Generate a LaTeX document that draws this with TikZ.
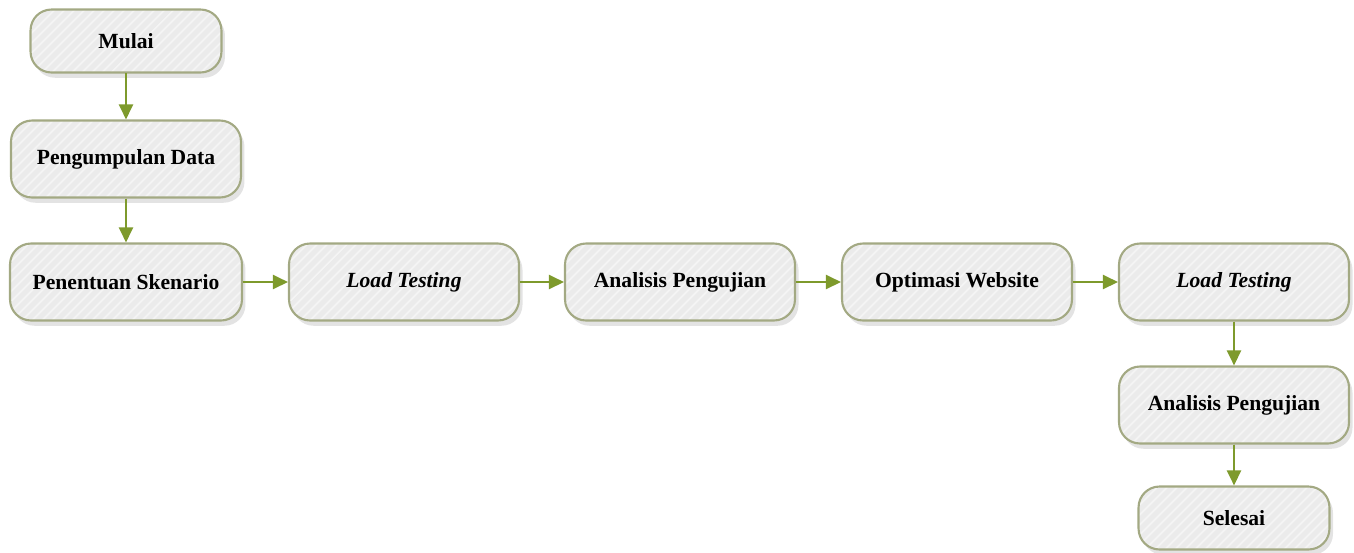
\documentclass[tikz,border=0pt]{standalone}
\usepackage{fontspec}
\setmainfont{Liberation Serif}
\usetikzlibrary{arrows.meta, shadows, patterns.meta}
\definecolor{olivearrow}{HTML}{7E9A2C}
\definecolor{boxline}{HTML}{A3A983}
\definecolor{boxfill}{HTML}{EBEBEB}
\tikzset{
  stepbox/.style={draw=boxline, line width=1.2pt, rounded corners=0.42cm,
    minimum width=4.6cm, minimum height=1.54cm, align=center,
    font=\fontsize{12.3pt}{14pt}\selectfont\bfseries,
    drop shadow={opacity=0.22, shadow xshift=2pt, shadow yshift=-3pt},
    preaction={fill=boxfill},
    pattern={Lines[angle=45, distance=4pt, line width=1.1pt]}, pattern color=white!45!boxfill},
  endbox/.style={stepbox, minimum width=3.82cm, minimum height=1.26cm},
  flow/.style={-{Triangle[width=0.28cm, length=0.3cm]}, draw=olivearrow, fill=olivearrow, line width=1.2pt}
}
\begin{document}
\begin{tikzpicture}[x=0.02cm, y=-0.02cm]
  \useasboundingbox (0,0) rectangle (1354,552);
  % left column
  \node[endbox] (mulai) at (126,41) {Mulai};
  \node[stepbox] (data) at (126,159) {Pengumpulan Data};
  \node[stepbox, minimum width=4.64cm] (skenario) at (126,282) {Penentuan Skenario};
  % main row
  \node[stepbox] (load) at (404,282) {\textit{Load Testing}};
  \node[stepbox] (analisis) at (680,282) {Analisis Pengujian};
  \node[stepbox] (optimasi) at (957,282) {Optimasi Website};
  \node[stepbox] (loadb) at (1234,282) {\textit{Load Testing}};
  % right column
  \node[stepbox] (analisisb) at (1234,405) {Analisis Pengujian};
  \node[endbox] (selesai) at (1234,518) {Selesai};
  \draw[flow] (mulai) -- (data);
  \draw[flow] (data) -- (skenario);
  \foreach \a/\b in {skenario/load, load/analisis, analisis/optimasi, optimasi/loadb}
    \draw[flow] (\a) -- (\b);
  \draw[flow] (loadb) -- (analisisb);
  \draw[flow] (analisisb) -- (selesai);
\end{tikzpicture}
\end{document}
